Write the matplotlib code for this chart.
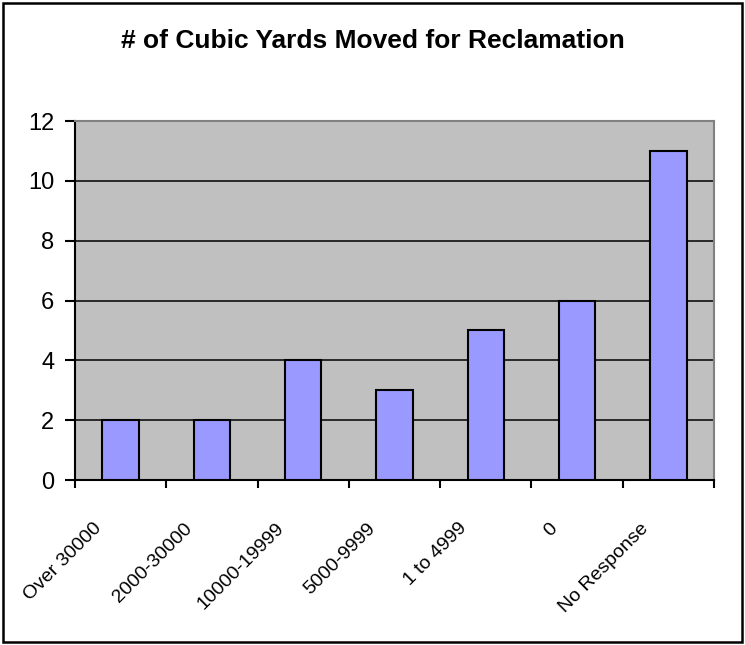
import numpy as np
import matplotlib.pyplot as plt
import matplotlib.transforms as mtransforms
from matplotlib.patches import Rectangle

plt.rcParams['font.family'] = ['Liberation Sans', 'DejaVu Sans']

# cubic yards moved, survey responses
categories = ["Over 30000", "2000-30000", "10000-19999", "5000-9999", "1 to 4999", "0", "No Response"]
counts = [2, 2, 4, 3, 5, 6, 11]
y_ticks = [0, 2, 4, 6, 8, 10, 12]

fig = plt.figure(figsize=(7.45, 6.45), dpi=100)
ax = fig.add_axes([0.1007, 0.2558, 0.8577, 0.5566])

x = np.arange(len(categories))
ax.set_facecolor("#C0C0C0")
ax.bar(x, counts, width=0.4, color="#9999FF", edgecolor="black", linewidth=1.5, zorder=3)

ax.set_xlim(-0.5, len(categories) - 0.5)
ax.set_ylim(y_ticks[0], y_ticks[-1])
ax.set_yticks(y_ticks)
ax.yaxis.grid(True, color="black", linewidth=1.1, zorder=1)
ax.set_axisbelow(True)

# spines: black axes, gray plot-area border
for side in ["left", "bottom"]:
    ax.spines[side].set_color("black")
    ax.spines[side].set_linewidth(1.5)
for side in ["top", "right"]:
    ax.spines[side].set_color("#808080")
    ax.spines[side].set_linewidth(1.5)

ax.tick_params(axis="y", direction="out", length=7, width=1.5, pad=8, labelsize=17)

# tick marks between categories, labels at category centres
ax.set_xticks(np.arange(-0.5, len(categories)), minor=True)
ax.set_xticks(x)
ax.set_xticklabels(categories, rotation=45, ha="right", va="center",
                   rotation_mode="anchor", fontsize=14)
ax.tick_params(axis="x", which="minor", direction="out", length=6, width=1.5)
ax.tick_params(axis="x", which="major", length=0, pad=33)
shift = mtransforms.ScaledTranslation(-22 / 100, 0, fig.dpi_scale_trans)
for lbl in ax.get_xticklabels():
    lbl.set_transform(lbl.get_transform() + shift)

fig.text(0.5, 0.936, "# of Cubic Yards Moved for Reclamation", ha="center", va="center",
         fontsize=19, fontweight="bold")

# chart frame
fig.patches.append(Rectangle((3 / 745, 3 / 645), 739 / 745, 639 / 645, transform=fig.transFigure,
                             fill=False, edgecolor="black", linewidth=1.8))

fig.savefig("out.png", dpi=100)
